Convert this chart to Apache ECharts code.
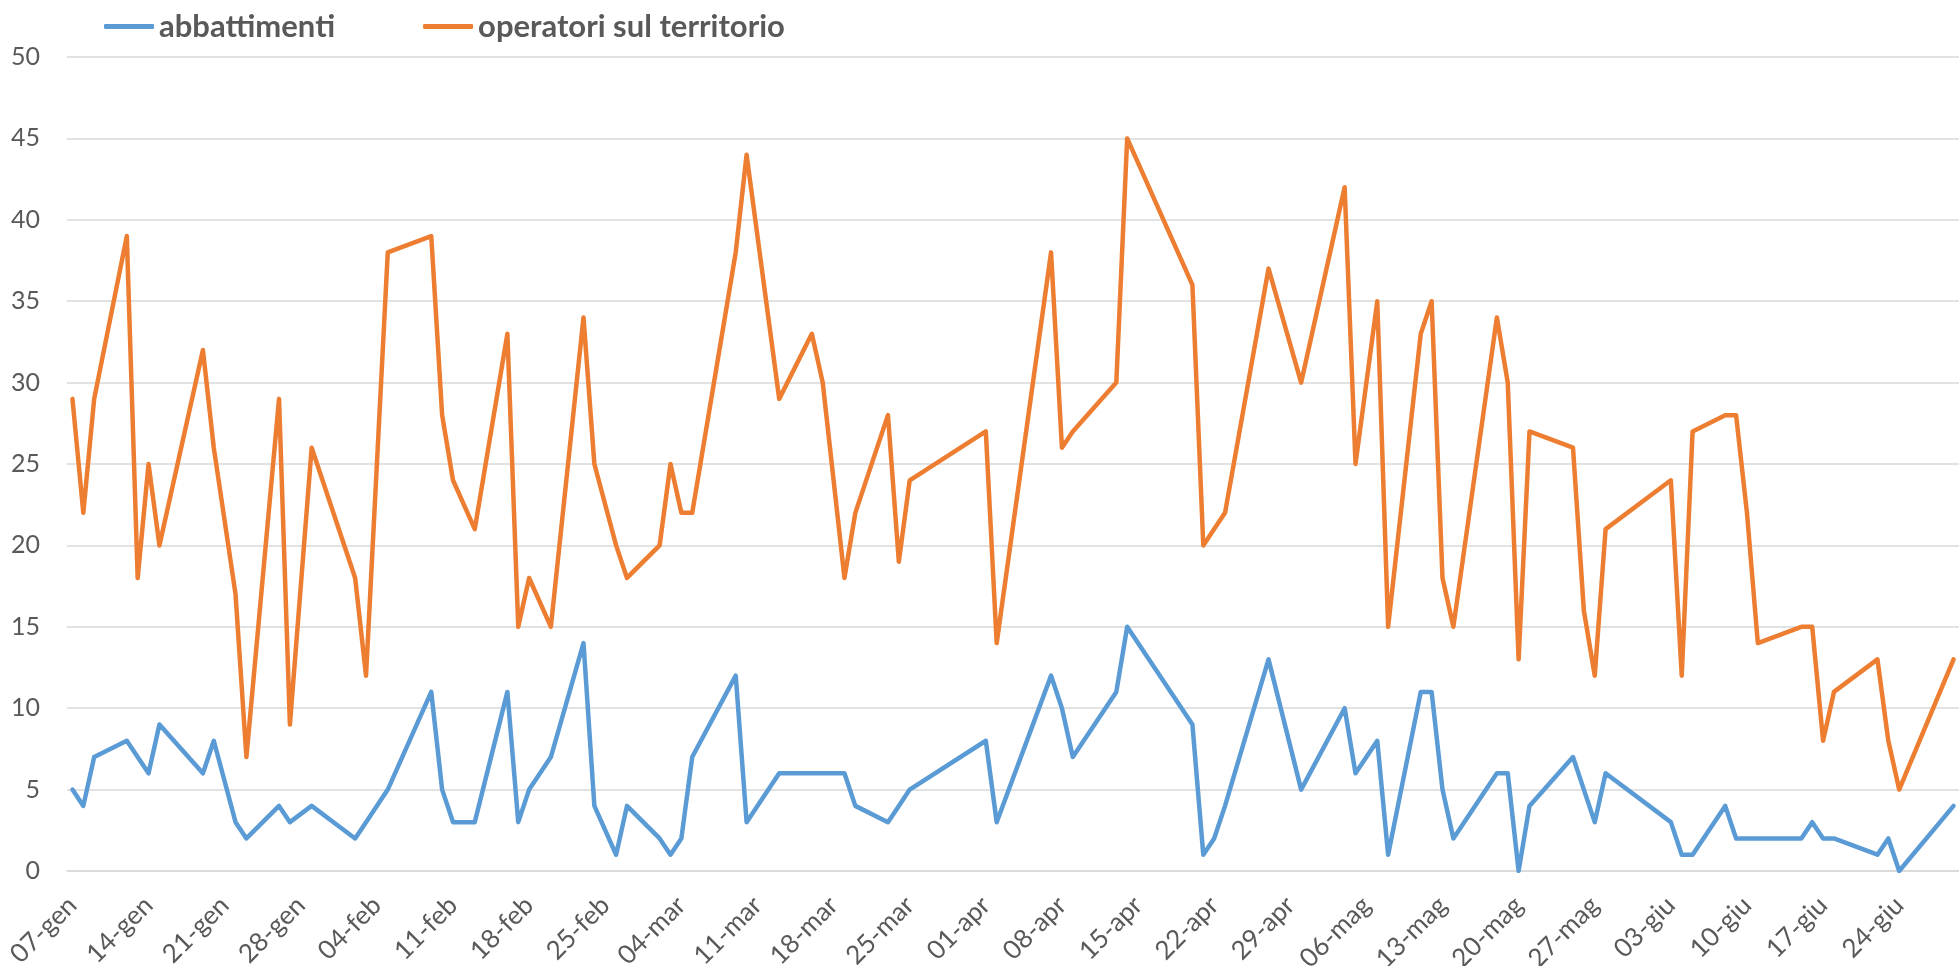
<!DOCTYPE html>
<html>
<head>
<meta charset="utf-8">
<title>abbattimenti e operatori sul territorio</title>
<script src="https://cdn.jsdelivr.net/npm/echarts@6.0.0/dist/echarts.min.js"></script>
<style>
html, body { margin: 0; padding: 0; background: #fff; }
#main { width: 1959px; height: 966px; }
</style>
</head>
<body>
<div id="main"></div>
<script>
// giorni con dati (anno 2019)
var dates = [
	'2019-01-07','2019-01-08','2019-01-09','2019-01-12','2019-01-13','2019-01-14','2019-01-15',
	'2019-01-19','2019-01-20','2019-01-22','2019-01-23','2019-01-26','2019-01-27','2019-01-29',
	'2019-02-02','2019-02-03','2019-02-05','2019-02-09','2019-02-10','2019-02-11','2019-02-13',
	'2019-02-16','2019-02-17','2019-02-18','2019-02-20','2019-02-23','2019-02-24','2019-02-26',
	'2019-02-27','2019-03-02','2019-03-03','2019-03-04','2019-03-05','2019-03-09','2019-03-10',
	'2019-03-13','2019-03-16','2019-03-17','2019-03-19','2019-03-20','2019-03-23','2019-03-24',
	'2019-03-25','2019-04-01','2019-04-02','2019-04-07','2019-04-08','2019-04-09','2019-04-13',
	'2019-04-14','2019-04-20','2019-04-21','2019-04-22','2019-04-23','2019-04-27','2019-04-30',
	'2019-05-04','2019-05-05','2019-05-07','2019-05-08','2019-05-11','2019-05-12','2019-05-13',
	'2019-05-14','2019-05-18','2019-05-19','2019-05-20','2019-05-21','2019-05-25','2019-05-26',
	'2019-05-27','2019-05-28','2019-06-03','2019-06-04','2019-06-05','2019-06-08','2019-06-09',
	'2019-06-10','2019-06-11','2019-06-15','2019-06-16','2019-06-17','2019-06-18','2019-06-22',
	'2019-06-23','2019-06-24','2019-06-29'
];

var abbattimenti = [
	5, 4, 7, 8, 7, 6, 9,
	6, 8, 3, 2, 4, 3, 4,
	2, 3, 5, 11, 5, 3, 3,
	11, 3, 5, 7, 14, 4, 1,
	4, 2, 1, 2, 7, 12, 3,
	6, 6, 6, 6, 4, 3, 4,
	5, 8, 3, 12, 10, 7, 11,
	15, 9, 1, 2, 4, 13, 5,
	10, 6, 8, 1, 11, 11, 5,
	2, 6, 6, 0, 4, 7, 5,
	3, 6, 3, 1, 1, 4, 2,
	2, 2, 2, 3, 2, 2, 1,
	2, 0, 4
];

var operatori = [
	29, 22, 29, 39, 18, 25, 20,
	32, 26, 17, 7, 29, 9, 26,
	18, 12, 38, 39, 28, 24, 21,
	33, 15, 18, 15, 34, 25, 20,
	18, 20, 25, 22, 22, 38, 44,
	29, 33, 30, 18, 22, 28, 19,
	24, 27, 14, 38, 26, 27, 30,
	45, 36, 20, 21, 22, 37, 30,
	42, 25, 35, 15, 33, 35, 18,
	15, 34, 30, 13, 27, 26, 16,
	12, 21, 24, 12, 27, 28, 28,
	22, 14, 15, 15, 8, 11, 13,
	8, 5, 13
];

var mesi = ['gen', 'feb', 'mar', 'apr', 'mag', 'giu', 'lug', 'ago', 'set', 'ott', 'nov', 'dic'];
var firstDay = '2019-01-07';
var lastDay = '2019-06-29';

var DAY = 86400000;

function toUTC(s) {
	var p = s.split('-');
	return Date.UTC(+p[0], +p[1] - 1, +p[2]);
}

var start = toUTC(firstDay);
var nDays = Math.round((toUTC(lastDay) - start) / DAY) + 1;

// one category per day, like the Excel date axis
var days = [];
for (var i = 0; i < nDays; i++) {
	var d = new Date(start + i * DAY);
	var dd = d.getUTCDate();
	days.push((dd < 10 ? '0' + dd : '' + dd) + '-' + mesi[d.getUTCMonth()]);
}

function fillSeries(values) {
	var out = [];
	for (var i = 0; i < nDays; i++) out.push(null);
	for (var j = 0; j < dates.length; j++) {
		out[Math.round((toUTC(dates[j]) - start) / DAY)] = values[j];
	}
	return out;
}

var chartDom = document.getElementById('main');
var myChart = echarts.init(chartDom);

var labelFont = 'Lato, "Open Sans", sans-serif';

var option = {
	animation: false,
	color: ['#5B9BD5', '#ED7D31'],
	legend: {
		left: 99,
		top: 6,
		icon: 'roundRect',
		itemWidth: 50,
		itemHeight: 5,
		itemGap: 88,
		textStyle: {
			fontFamily: labelFont,
			fontWeight: 'bold',
			fontSize: 31,
			color: '#595959'
		},
		data: ['abbattimenti', 'operatori sul territorio']
	},
	grid: {
		left: 67,
		right: 0,
		top: 57,
		bottom: 95,
		containLabel: false,
		outerBoundsMode: 'none'
	},
	xAxis: {
		type: 'category',
		data: days,
		boundaryGap: true,
		axisLine: {
			lineStyle: { color: '#D9D9D9', width: 1.5 }
		},
		axisTick: { show: false },
		axisLabel: {
			interval: 6,
			rotate: 45,
			margin: 30,
			fontFamily: labelFont,
			fontSize: 26,
			color: '#595959'
		},
		splitLine: { show: false }
	},
	yAxis: {
		type: 'value',
		min: 0,
		max: 50,
		interval: 5,
		axisLine: { show: false },
		axisTick: { show: false },
		axisLabel: {
			margin: 27,
			fontFamily: labelFont,
			fontSize: 25,
			color: '#595959'
		},
		splitLine: {
			lineStyle: { color: '#D9D9D9', width: 1.5 }
		}
	},
	series: [
		{
			name: 'abbattimenti',
			type: 'line',
			data: fillSeries(abbattimenti),
			connectNulls: true,
			showSymbol: false,
			symbol: 'none',
			lineStyle: { width: 4.5, cap: 'round', join: 'round' }
		},
		{
			name: 'operatori sul territorio',
			type: 'line',
			data: fillSeries(operatori),
			connectNulls: true,
			showSymbol: false,
			symbol: 'none',
			lineStyle: { width: 4.5, cap: 'round', join: 'round' }
		}
	]
};

myChart.setOption(option);
</script>
</body>
</html>
